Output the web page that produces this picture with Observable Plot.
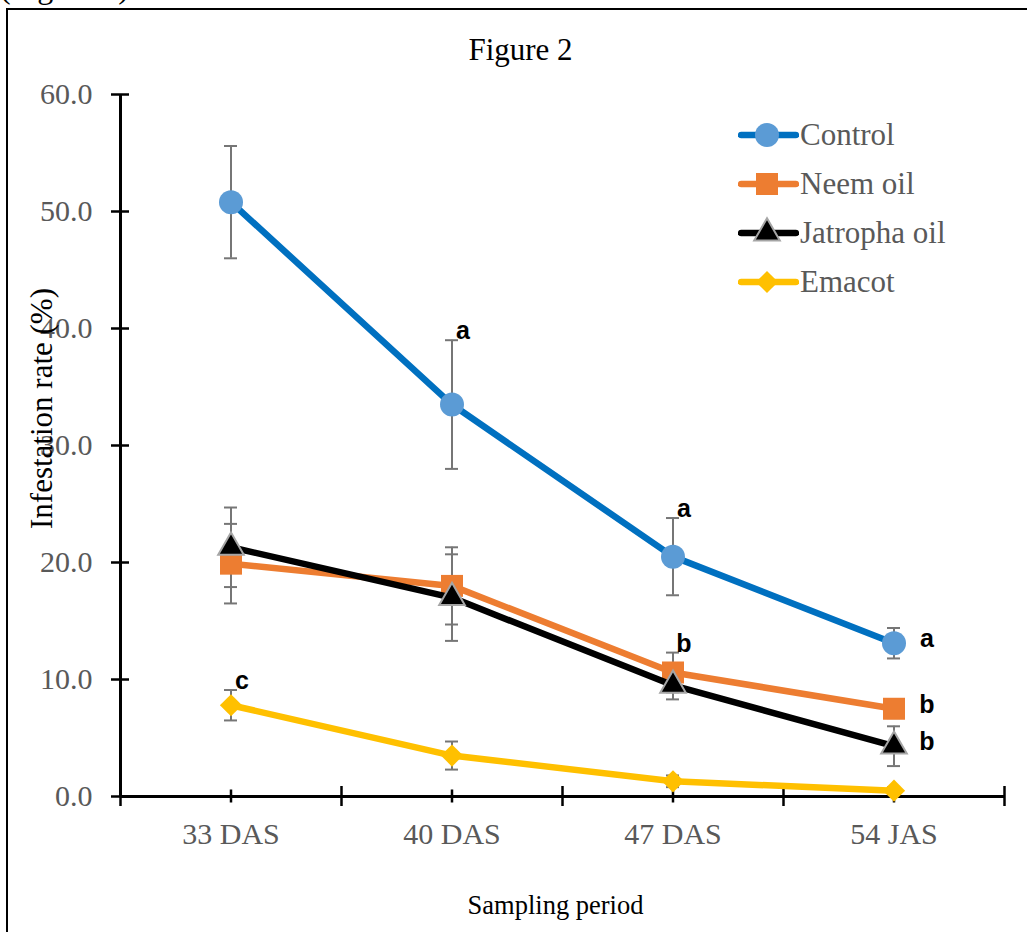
<!DOCTYPE html>
<html>
<head>
<meta charset="utf-8">
<script src="https://cdn.jsdelivr.net/npm/d3@7"></script>
<script src="https://cdn.jsdelivr.net/npm/@observablehq/plot@0.6"></script>
<style>
html, body { margin: 0; padding: 0; background: #fff; overflow: hidden; }
#wrap { position: relative; width: 1027px; height: 932px; }
#chart svg { display: block; }
#border { position: absolute; left: 6px; top: 8px; width: 1100px; height: 1000px; border-left: 2px solid #000; border-top: 2px solid #000; pointer-events: none; }
#topnote { position: absolute; left: 0px; top: -29px; font-family: "Liberation Serif", serif; font-size: 32px; color: #000; white-space: nowrap; line-height: 32px; }
#legend { position: absolute; left: 738px; top: 0px; font-family: "Liberation Serif", serif; font-size: 31px; color: #595959; }
.lrow { position: absolute; left: 0; height: 40px; display: flex; align-items: center; white-space: nowrap; }
.lrow svg { display: block; margin-right: 1px; }
</style>
</head>
<body>
<div id="wrap">
  <div id="chart"></div>
  <div id="topnote">(Figure 2).</div>
  <div id="legend"></div>
  <div id="border"></div>
</div>
<script>
// ---------------- data ----------------
const periods = ["33 DAS", "40 DAS", "47 DAS", "54 JAS"];
const seriesNames = ["Control", "Neem oil", "Jatropha oil", "Emacot"];
const control = [50.8, 33.5, 20.5, 13.1];
const controlSE = [4.8, 5.5, 3.3, 1.3];
const neem = [19.9, 18.0, 10.6, 7.5];
const neemSE = [3.4, 3.3, 1.7, 0.8];
const jatropha = [21.3, 17.0, 9.5, 4.3];
const jatrophaSE = [3.4, 3.7, 1.2, 1.7];
const emacot = [7.8, 3.5, 1.3, 0.5];
const emacotSE = [1.3, 1.2, 0.5, 0.3];
const yTicks = [0, 10, 20, 30, 40, 50, 60];
const letters = [
  {series: "Emacot", period: "33 DAS", letter: "c", place: "above"},
  {series: "Control", period: "40 DAS", letter: "a", place: "above"},
  {series: "Control", period: "47 DAS", letter: "a", place: "above"},
  {series: "Neem oil", period: "47 DAS", letter: "b", place: "above"},
  {series: "Control", period: "54 JAS", letter: "a", place: "right"},
  {series: "Neem oil", period: "54 JAS", letter: "b", place: "right"},
  {series: "Jatropha oil", period: "54 JAS", letter: "b", place: "right"}
];
const titleText = "Figure 2";
const xTitle = "Sampling period";
const yTitle = "Infestation rate (%)";

// ---------------- styles ----------------
const styles = {
  "Control":      {line: "#0070C0", fill: "#5B9BD5", stroke: "none",    symbol: "circle",   r: 12},
  "Neem oil":     {line: "#ED7D31", fill: "#ED7D31", stroke: "none",    symbol: "square",   r: 12.4},
  "Jatropha oil": {line: "#000000", fill: "#000000", stroke: "#A5A5A5", symbol: "triangle", r: 9.5},
  "Emacot":       {line: "#FFC000", fill: "#FFC000", stroke: "none",    symbol: "diamond2", r: 10}
};
const valuesBy = {"Control": control, "Neem oil": neem, "Jatropha oil": jatropha, "Emacot": emacot};
const seBy = {"Control": controlSE, "Neem oil": neemSE, "Jatropha oil": jatrophaSE, "Emacot": emacotSE};

const rows = [];
seriesNames.forEach(name => {
  valuesBy[name].forEach((v, i) => rows.push({series: name, i, period: periods[i], v, se: seBy[name][i]}));
});
const letterRows = letters.map(d => {
  const i = periods.indexOf(d.period);
  return {...d, i, v: valuesBy[d.series][i], se: seBy[d.series][i]};
});

const idx = periods.map((_, i) => i);
const bounds = [-0.5, ...idx.map(i => i + 0.5)];
const serif = "'Liberation Serif', 'Times New Roman', serif";
const sans = "'Liberation Sans', Arial, sans-serif";
const grid = "#767676";

const seriesMarks = seriesNames.flatMap(name => {
  const s = styles[name];
  const data = rows.filter(d => d.series === name);
  return [
    Plot.line(data, {x: "i", y: "v", stroke: s.line, strokeWidth: 6.5, strokeLinejoin: "round", strokeLinecap: "round"}),
    Plot.dot(data, {x: "i", y: "v", symbol: () => s.symbol, r: s.r, fill: s.fill, stroke: s.stroke, strokeWidth: s.stroke === "none" ? 0 : 2})
  ];
});

const chart = Plot.plot({
  width: 1027,
  height: 932,
  marginLeft: 120,
  marginRight: 23,
  marginTop: 94,
  marginBottom: 136,
  x: {type: "linear", domain: [-0.5, 3.5]},
  y: {type: "linear", domain: [0, 60]},
  symbol: {type: "identity"},
  style: {fontFamily: serif, color: "#595959", background: "transparent", overflow: "visible"},
  marks: [
    // axis lines
    Plot.ruleY([0], {x1: -0.5, x2: 3.5, stroke: "#000", strokeWidth: 3}),
    Plot.ruleX([-0.5], {y1: 0, y2: 60, stroke: "#000", strokeWidth: 3}),
    // x ticks (long at category boundaries, short at category centres)
    Plot.ruleX(bounds, {x: d => d, y1: 0, y2: 0, insetTop: -10, insetBottom: -10, stroke: "#000", strokeWidth: 2.5}),
    Plot.ruleX(idx, {x: d => d, y1: 0, y2: 0, insetTop: -6.5, insetBottom: -6.5, stroke: "#000", strokeWidth: 2.5}),
    // y ticks crossing the axis
    Plot.ruleY(yTicks, {y: d => d, x1: -0.5, x2: -0.5, insetLeft: -9, insetRight: -9, stroke: "#000", strokeWidth: 2.5}),
    Plot.axisY({ticks: yTicks, tickSize: 0, tickPadding: 28, tickFormat: d => d.toFixed(1), fontSize: 30, label: null}),
    Plot.axisX({ticks: idx, tickSize: 0, tickPadding: 26, tickFormat: i => periods[i], fontSize: 30, label: null}),
    // error bars
    Plot.ruleX(rows, {x: "i", y1: d => d.v - d.se, y2: d => d.v + d.se, stroke: grid, strokeWidth: 2}),
    Plot.ruleY(rows, {y: d => d.v + d.se, x1: "i", x2: "i", insetLeft: -6.5, insetRight: -6.5, stroke: grid, strokeWidth: 2}),
    Plot.ruleY(rows, {y: d => d.v - d.se, x1: "i", x2: "i", insetLeft: -6.5, insetRight: -6.5, stroke: grid, strokeWidth: 2}),
    // series
    ...seriesMarks,
    // significance letters
    Plot.text(letterRows.filter(d => d.place === "above"), {
      x: "i", y: d => d.v + d.se, text: "letter", dx: 11, dy: -1, lineAnchor: "bottom",
      fontFamily: sans, fontWeight: "bold", fontSize: 25, fill: "#000"
    }),
    Plot.text(letterRows.filter(d => d.place === "right"), {
      x: "i", y: "v", text: "letter", dx: 33, dy: -4, lineAnchor: "middle",
      fontFamily: sans, fontWeight: "bold", fontSize: 25, fill: "#000"
    }),
    // titles
    Plot.text([titleText], {frameAnchor: "top", text: d => d, dx: -42, dy: -44, lineAnchor: "middle", fontSize: 31, fill: "#000", fontFamily: serif}),
    Plot.text([xTitle], {frameAnchor: "bottom", text: d => d, dx: -7, dy: 109, lineAnchor: "middle", fontSize: 26.5, fill: "#000", fontFamily: serif}),
    Plot.text([yTitle], {frameAnchor: "left", text: d => d, rotate: -90, dx: -78, dy: -37, textAnchor: "middle", lineAnchor: "middle", fontSize: 31, fill: "#000", fontFamily: serif})
  ]
});
document.getElementById("chart").appendChild(chart);

// ---------------- legend ----------------
const legend = document.getElementById("legend");
const legendTop = 135, legendStep = 49;
seriesNames.forEach((name, k) => {
  const s = styles[name];
  const row = document.createElement("div");
  row.className = "lrow";
  row.style.top = (legendTop + k * legendStep - 20) + "px";
  const sym = {circle: d3.symbolCircle, square: d3.symbolSquare, triangle: d3.symbolTriangle, diamond2: d3.symbolDiamond2}[s.symbol];
  const path = d3.symbol(sym, s.r * s.r * Math.PI)();
  const svg = `<svg width="61" height="40" viewBox="0 0 61 40">
    <line x1="3" y1="20" x2="58" y2="20" stroke="${s.line}" stroke-width="6.5" stroke-linecap="round"/>
    <path d="${path}" transform="translate(29,20)" fill="${s.fill}" stroke="${s.stroke}" stroke-width="${s.stroke === "none" ? 0 : 2}"/>
  </svg>`;
  row.innerHTML = svg + `<span>${name}</span>`;
  legend.appendChild(row);
});
</script>
</body>
</html>
